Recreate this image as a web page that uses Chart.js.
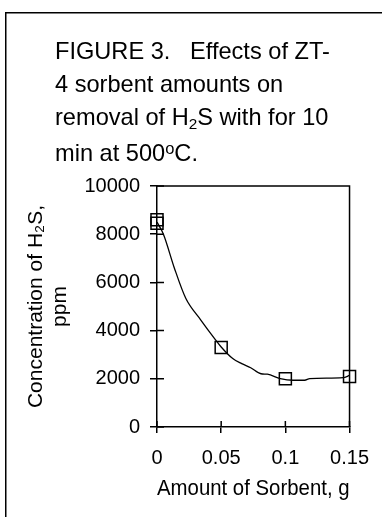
<!DOCTYPE html>
<html><head><meta charset="utf-8">
<script src="https://cdn.jsdelivr.net/npm/chart.js@4.4.1/dist/chart.umd.min.js"></script>
<style>
html,body{margin:0;padding:0;background:#fff;}
#wrap{position:relative;width:382px;height:517px;overflow:hidden;}
canvas{position:absolute;left:0;top:0;}
#title{position:absolute;left:55px;top:35px;font-family:'Liberation Sans',Arial,sans-serif;font-size:23.6px;line-height:33px;color:#000;white-space:pre;}
#title sub{font-size:0.65em;vertical-align:-0.25em;line-height:0;}
#title sup{font-size:0.7em;vertical-align:0.45em;line-height:0;}
#title .l4{display:block;margin-top:3px;}
</style></head>
<body><div id="wrap"><canvas id="c" width="382" height="517"></canvas>
<div id="title">FIGURE 3.   Effects of ZT-
4 sorbent amounts on
removal of H<sub>2</sub>S with for 10
<span class="l4">min at 500<sup>o</sup>C.</span></div></div>
<script>
// Measured points
const sorbentAmount = [0, 0, 0.05, 0.1, 0.15];
const h2sConc = [8600, 8450, 3300, 2000, 2100];
// Smoothed curve
const curveX = [0, 0.005, 0.0135, 0.0225, 0.034, 0.045, 0.05, 0.059, 0.066, 0.073, 0.081, 0.086, 0.096, 0.106, 0.115, 0.119, 0.145, 0.15];
const curveY = [8500, 8000, 6600, 5330, 4450, 3660, 3320, 2840, 2630, 2460, 2210, 2190, 2010, 1940, 1940, 2010, 2050, 2140];
// Axes
const xTicks = [0, 0.05, 0.1, 0.15];
const xTickLabels = ['0', '0.05', '0.1', '0.15'];
const yTicks = [0, 2000, 4000, 6000, 8000, 10000];
const yTickLabels = ['0', '2000', '4000', '6000', '8000', '10000'];
const xTitle = 'Amount of Sorbent, g';
const yTitle = ['Concentration of H\u2082S,', 'ppm'];

const FAM = "'Liberation Sans', Arial, sans-serif";

const framePlugin = {
  id: 'frame',
  beforeDraw(chart) {
    const c = chart.ctx;
    c.save();
    c.strokeStyle = '#000';
    c.lineWidth = 1.5;
    c.beginPath();
    c.moveTo(5.75, 517);
    c.lineTo(5.75, 12.75);
    c.lineTo(382, 12.75);
    c.stroke();
    c.restore();
  },
  beforeDatasetsDraw(chart) {
    const c = chart.ctx;
    const a = chart.chartArea;
    const xs = chart.scales.x, ys = chart.scales.y;
    c.save();
    c.strokeStyle = '#000';
    c.lineWidth = 1.5;
    c.beginPath();
    c.moveTo(a.left, a.top);
    c.lineTo(a.right, a.top);
    c.lineTo(a.right, a.bottom);
    c.stroke();
    c.beginPath();
    xs.ticks.forEach(t => {
      const px = xs.getPixelForValue(t.value);
      c.moveTo(px, a.bottom);
      c.lineTo(px, a.bottom - 6);
    });
    ys.ticks.forEach(t => {
      const py = ys.getPixelForValue(t.value);
      c.moveTo(a.left, py);
      c.lineTo(a.left + 7, py);
    });
    c.stroke();
    c.restore();
  }
};

new Chart(document.getElementById('c'), {
  type: 'scatter',
  data: {
    datasets: [
      {
        label: 'Curve',
        data: curveX.map((x, i) => ({ x: x, y: curveY[i] })),
        showLine: true,
        borderColor: '#000',
        borderWidth: 1.3,
        pointRadius: 0,
        cubicInterpolationMode: 'monotone',
        clip: false
      },
      {
        label: 'Measured',
        data: sorbentAmount.map((x, i) => ({ x: x, y: h2sConc[i] })),
        showLine: false,
        pointStyle: 'rect',
        pointRadius: 8.5,
        pointBorderWidth: 1.5,
        borderColor: '#000',
        backgroundColor: 'rgba(0,0,0,0)',
        clip: false
      }
    ]
  },
  options: {
    responsive: false,
    animation: false,
    devicePixelRatio: 1,
    layout: { padding: { left: 24, top: 186, right: 28, bottom: 0 } },
    plugins: { legend: { display: false }, tooltip: { enabled: false } },
    scales: {
      x: {
        type: 'linear', min: 0, max: 0.15,
        afterBuildTicks: s => { s.ticks = xTicks.map(v => ({ value: v })); },
        afterFit: s => { s.height = 90; },
        ticks: { callback: (v, i) => xTickLabels[i], color: '#000', font: { family: FAM, size: 20 }, padding: 13, maxRotation: 0, autoSkip: false },
        grid: { drawOnChartArea: false, drawTicks: true, tickLength: 6, color: '#000', lineWidth: 1.5 },
        border: { display: true, color: '#000', width: 1.5 },
        title: { display: true, text: xTitle, color: '#000', font: { family: FAM, size: 22.5 }, padding: { top: 0, bottom: 15 } }
      },
      y: {
        type: 'linear', min: 0, max: 10000,
        afterBuildTicks: s => { s.ticks = yTicks.map(v => ({ value: v })); },
        afterFit: s => { s.width = 133; },
        ticks: { callback: (v, i) => yTickLabels[i], color: '#000', font: { family: FAM, size: 20 }, padding: 10, autoSkip: false },
        grid: { drawOnChartArea: false, drawTicks: true, tickLength: 7, color: '#000', lineWidth: 1.5 },
        border: { display: true, color: '#000', width: 1.5 },
        title: { display: true, text: yTitle, color: '#000', font: { family: FAM, size: 21, lineHeight: 24 / 21 }, padding: { top: 0, bottom: 0 } }
      }
    }
  },
  plugins: [framePlugin]
});
</script>
</body></html>
